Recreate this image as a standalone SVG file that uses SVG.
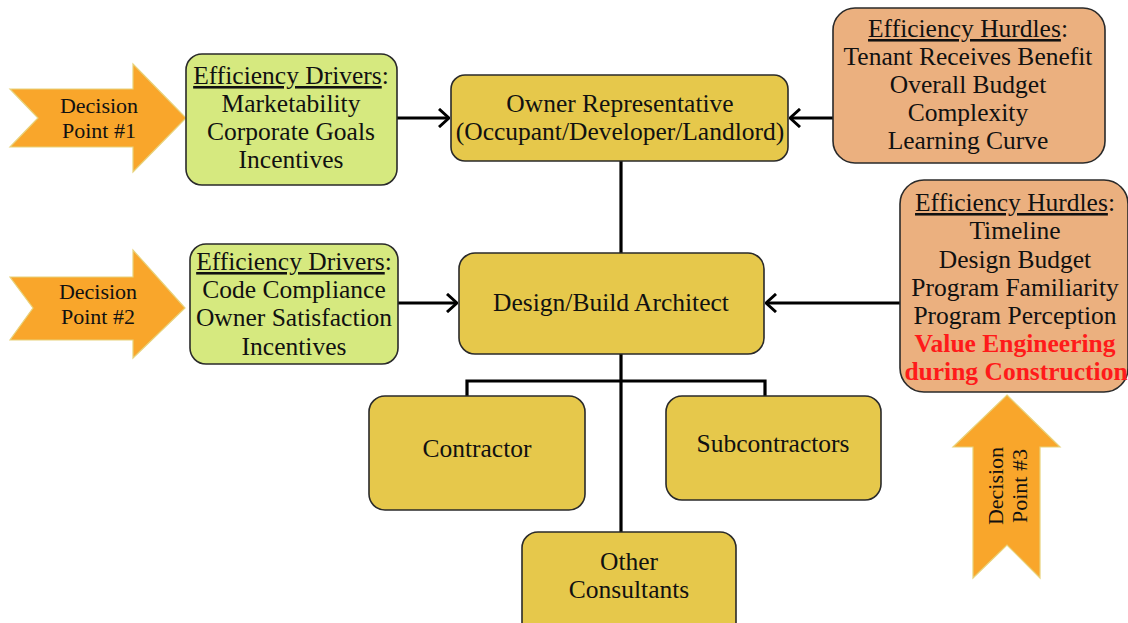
<svg xmlns="http://www.w3.org/2000/svg" width="1128" height="623" viewBox="0 0 1128 623">
  <style>
    text { font-family: "Liberation Serif", "DejaVu Serif", serif; fill: #111; text-anchor: middle; }
    .box { stroke: #2a2a2a; stroke-width: 1.6; }
    .gold { fill: #e6c84b; }
    .green { fill: #d6e97f; }
    .peach { fill: #ebb07f; }
    .dp { fill: #f9a62b; stroke: #e8d27a; stroke-width: 1.2; }
    .lbl { font-size: 25.5px; }
    .big { font-size: 25.5px; }
    .dpt { font-size: 22px; }
    .u { text-decoration: underline; }
    .red { fill: #ff1a1a; font-weight: bold; }
    .wire { stroke: #000; stroke-width: 3.2; fill: none; }
  </style>
  <defs>
    <marker id="open" viewBox="0 0 12 20" refX="11" refY="10" markerWidth="12" markerHeight="20" markerUnits="userSpaceOnUse" orient="auto">
      <path d="M1,1 L11,10 L1,19" fill="none" stroke="#000" stroke-width="3"/>
    </marker>
  </defs>

  <rect width="1128" height="623" fill="#fff"/>

  <!-- connectors -->
  <g id="connectors">
    <line class="wire" x1="397" y1="118" x2="449" y2="118" marker-end="url(#open)"/>
    <line class="wire" x1="833" y1="118" x2="790" y2="118" marker-end="url(#open)"/>
    <line class="wire" x1="398" y1="303" x2="457" y2="303" marker-end="url(#open)"/>
    <line class="wire" x1="900" y1="303" x2="766" y2="303" marker-end="url(#open)"/>
    <line class="wire" x1="621" y1="161" x2="621" y2="253"/>
    <line class="wire" x1="621" y1="354" x2="621" y2="532"/>
    <polyline class="wire" points="467,396 467,381 765,381 765,396"/>
  </g>

  <!-- decision point arrows -->
  <g id="decision1">
    <polygon class="dp" points="10,89 133,89 133,64 186,118 133,172 133,147 10,147 38,118"/>
    <text class="dpt" x="99" y="113">Decision</text>
    <text class="dpt" x="99" y="138">Point #1</text>
  </g>
  <g id="decision2">
    <polygon class="dp" points="10,277 133,277 133,250 185,308 133,358 133,340 10,340 33,308"/>
    <text class="dpt" x="98" y="299">Decision</text>
    <text class="dpt" x="98" y="324">Point #2</text>
  </g>
  <g id="decision3">
    <polygon class="dp" points="1007,395 1060,447 1040,447 1040,578 1007,545 973,578 973,447 953,447"/>
    <g transform="translate(1007,486) rotate(-90)">
      <text class="dpt" x="0" y="-4">Decision</text>
      <text class="dpt" x="0" y="20">Point #3</text>
    </g>
  </g>

  <!-- drivers -->
  <g id="drivers1">
    <rect class="box green" x="186" y="54" width="211" height="131" rx="16"/>
    <text class="big" x="291" y="84"><tspan class="u">Efficiency Drivers</tspan>:</text>
    <text class="big" x="291" y="112">Marketability</text>
    <text class="big" x="291" y="140">Corporate Goals</text>
    <text class="big" x="291" y="168">Incentives</text>
  </g>
  <g id="drivers2">
    <rect class="box green" x="190" y="244" width="208" height="120" rx="16"/>
    <text class="big" x="294" y="270"><tspan class="u">Efficiency Drivers</tspan>:</text>
    <text class="big" x="294" y="298">Code Compliance</text>
    <text class="big" x="294" y="326">Owner Satisfaction</text>
    <text class="big" x="294" y="355">Incentives</text>
  </g>

  <!-- hurdles -->
  <g id="hurdles1">
    <rect class="box peach" x="833" y="8" width="272" height="155" rx="22"/>
    <text class="big" x="968" y="37"><tspan class="u">Efficiency Hurdles</tspan>:</text>
    <text class="big" x="968" y="65">Tenant Receives Benefit</text>
    <text class="big" x="968" y="93">Overall Budget</text>
    <text class="big" x="968" y="121">Complexity</text>
    <text class="big" x="968" y="149">Learning Curve</text>
  </g>
  <g id="hurdles2">
    <rect class="box peach" x="900" y="180" width="228" height="212" rx="24"/>
    <text class="big" x="1015" y="211"><tspan class="u">Efficiency Hurdles</tspan>:</text>
    <text class="big" x="1015" y="239">Timeline</text>
    <text class="big" x="1015" y="268">Design Budget</text>
    <text class="big" x="1015" y="296">Program Familiarity</text>
    <text class="big" x="1015" y="324">Program Perception</text>
    <text class="big red" x="1015" y="352">Value Engineering</text>
    <text class="big red" x="1016" y="380">during Construction</text>
  </g>

  <!-- organisation -->
  <g id="owner">
    <rect class="box gold" x="451" y="75" width="337" height="86" rx="14"/>
    <text class="lbl" x="620" y="112">Owner Representative</text>
    <text class="lbl" x="620" y="140">(Occupant/Developer/Landlord)</text>
  </g>
  <g id="architect">
    <rect class="box gold" x="459" y="253" width="305" height="101" rx="16"/>
    <text class="lbl" x="611" y="311">Design/Build Architect</text>
  </g>
  <g id="contractor">
    <rect class="box gold" x="369" y="396" width="216" height="114" rx="16"/>
    <text class="lbl" x="477" y="457">Contractor</text>
  </g>
  <g id="subcontractors">
    <rect class="box gold" x="666" y="396" width="215" height="104" rx="16"/>
    <text class="lbl" x="773" y="452">Subcontractors</text>
  </g>
  <g id="consultants">
    <rect class="box gold" x="522" y="532" width="214" height="110" rx="16"/>
    <text class="lbl" x="629" y="570">Other</text>
    <text class="lbl" x="629" y="598">Consultants</text>
  </g>
</svg>
